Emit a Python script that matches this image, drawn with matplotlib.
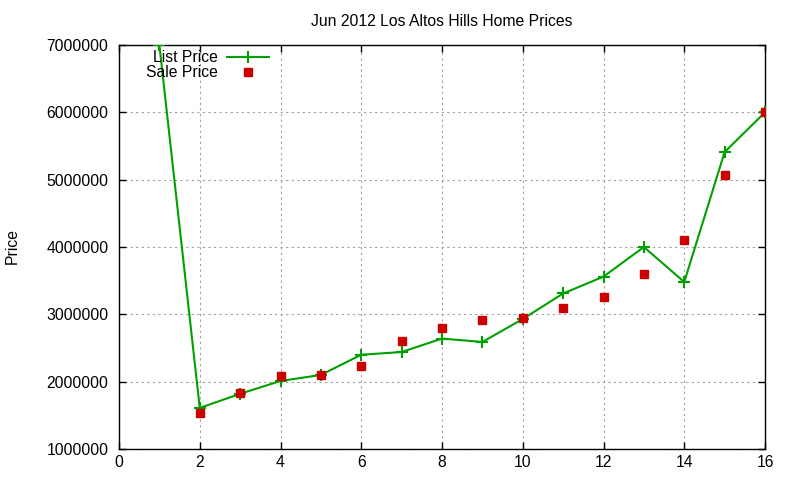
import matplotlib
matplotlib.use("Agg")
import matplotlib.pyplot as plt

plt.rcParams['font.family'] = ['Liberation Sans', 'DejaVu Sans']

x_list = [1, 2, 3, 4, 5, 6, 7, 8, 9, 10, 11, 12, 13, 14, 15, 16]
list_price = [7000000, 1610000, 1820000, 2010000, 2100000, 2400000, 2440000, 2640000,
              2590000, 2930000, 3310000, 3560000, 4000000, 3480000, 5410000, 6000000]
x_sale = [2, 3, 4, 5, 6, 7, 8, 9, 10, 11, 12, 13, 14, 15, 16]
sale_price = [1530000, 1830000, 2090000, 2100000, 2240000, 2610000, 2790000, 2910000,
              2940000, 3100000, 3260000, 3600000, 4110000, 5070000, 6000000]
x_ticks = [0, 2, 4, 6, 8, 10, 12, 14, 16]
y_ticks = [1000000, 2000000, 3000000, 4000000, 5000000, 6000000, 7000000]

FS = 11.3

fig = plt.figure(figsize=(8, 4.8), dpi=100)
ax = fig.add_axes([119/800, 1-449/480, (765-119)/800, (449-45)/480])

ax.plot(x_list, list_price, color='#00a000', linewidth=1.5, marker='+',
        markersize=8, markeredgewidth=1.5, label='List Price', zorder=3)
ax.plot(x_sale, sale_price, linestyle='none', marker='s', color='#cc0000',
        markersize=6, label='Sale Price', zorder=3)

ax.set_xlim(0, 16)
ax.set_ylim(1000000, 7000000)
ax.set_xticks(x_ticks)
ax.set_yticks(y_ticks)
ax.set_yticklabels([str(v) for v in y_ticks])
ax.tick_params(direction='in', top=True, right=True, labelsize=FS, length=5, width=1)
ax.tick_params(axis='y', pad=7.5)
ax.tick_params(axis='x', pad=4)
ax.grid(True, color='#a0a0a0', linestyle=(0, (2, 3)), linewidth=0.8)
for s in ax.spines.values():
    s.set_linewidth(1)

ax.set_title('Jun 2012 Los Altos Hills Home Prices', fontsize=FS, pad=14)
fig.text(12/800, 1-246/480, 'Price', rotation=90, va='center', ha='center', fontsize=FS)

leg = ax.legend(loc='upper left', bbox_to_anchor=(0.027, 1.01), frameon=False,
                markerfirst=False, handlelength=2.68, fontsize=FS,
                labelspacing=0.0, handletextpad=0.57, borderaxespad=0.2)
for t in leg.get_texts():
    t.set_ha('right')

fig.savefig('out.png', dpi=100)
